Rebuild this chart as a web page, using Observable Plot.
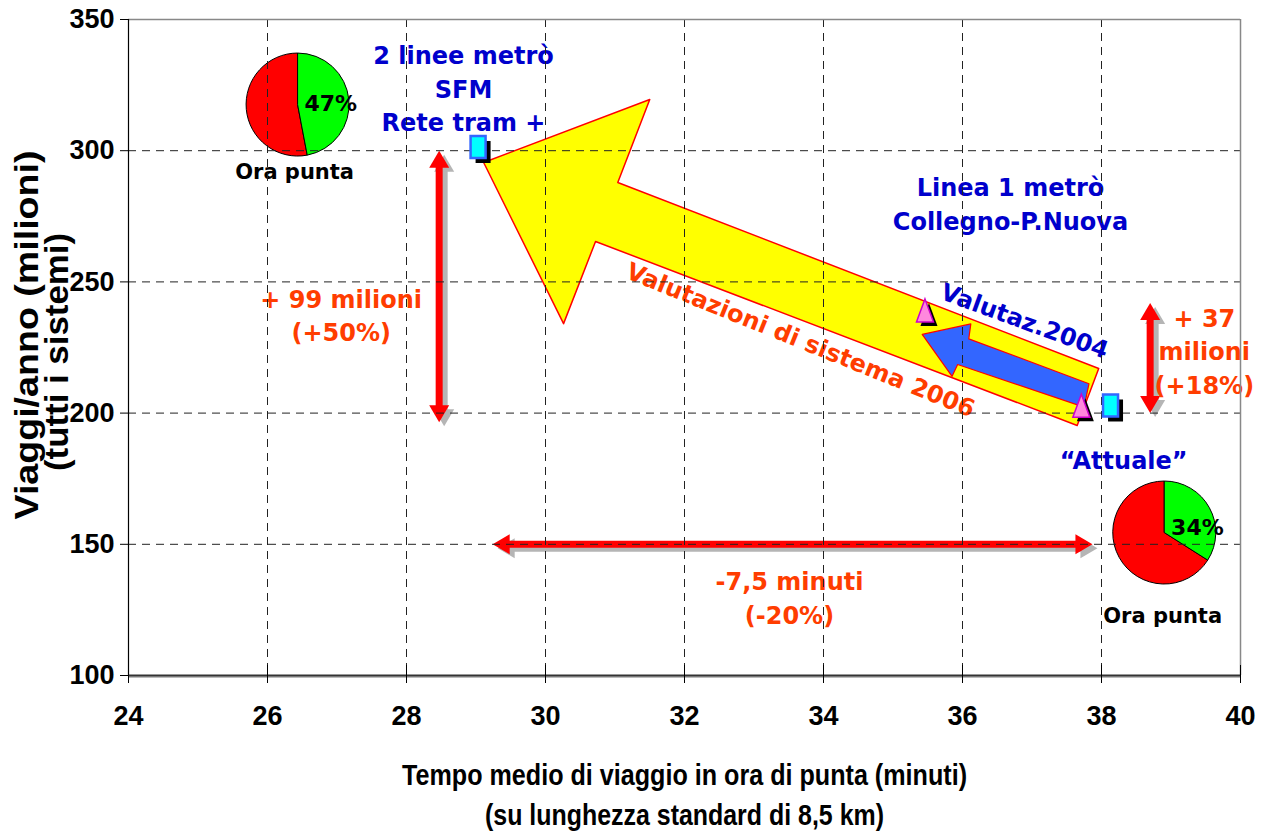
<!DOCTYPE html>
<html><head><meta charset="utf-8">
<script src="https://cdn.jsdelivr.net/npm/d3@7"></script>
<script src="https://cdn.jsdelivr.net/npm/@observablehq/plot@0.6"></script>
<style>
body{margin:0;background:#fff;}
</style></head><body><div id="chart"></div>
<script>
// ---- axes ----
const xTicks = [24, 26, 28, 30, 32, 34, 36, 38, 40];
const yTicks = [100, 150, 200, 250, 300, 350];
const xGrid = [26, 28, 30, 32, 34, 36, 38];
const yGrid = [150, 200, 250, 300];
const xLabel1 = "Tempo medio di viaggio in ora di punta (minuti)";
const xLabel2 = "(su lunghezza standard di 8,5 km)";
const yLabel1 = "Viaggi/anno (milioni)";
const yLabel2 = "(tutti i sistemi)";

// ---- scenario markers (minutes, million trips/year) ----
const metroSquares = [{x: 29.03, y: 301.4}, {x: 38.13, y: 202.9}];
const evalTriangles = [{x: 35.46, y: 239.1}, {x: 37.71, y: 202.8}];

// ---- peak-hour pies (share of public transport) ----
const pies = [
  {x: 26.44, y: 317.4, share: 0.47, label: "47%", lx: 26.91, ly: 318.0, cx: 26.39, cy: 291.7},
  {x: 38.91, y: 154.3, share: 0.34, label: "34%", lx: 39.38, ly: 156.4, cx: 38.88, cy: 122.5}
];

// ---- big arrows (polygons in data units) ----
const bigArrowX = [29.11, 31.50, 31.04, 37.96, 37.65, 30.72, 30.26];
const bigArrowY = [295.5, 319.5, 287.9, 217.0, 195.3, 265.4, 234.1];
const blueArrowX = [35.42, 36.12, 36.09, 37.82, 37.75, 35.93, 35.85];
const blueArrowY = [230.0, 234.0, 228.3, 211.2, 202.3, 218.5, 214.0];

// ---- double-headed difference arrows ----
const vArrows = [{x: 28.47, top: 300, bottom: 196.5}, {x: 38.70, top: 242, bottom: 200}];
const hArrows = [{y: 150, left: 29.24, right: 37.87}];

// ---- annotations ----
const blueNotes = [
  {x: 28.82, y: 324.3, text: "2 linee metrò\nSFM\nRete tram +"},
  {x: 36.69, y: 280.3, text: "Linea 1 metrò\nCollegno-P.Nuova"},
  {x: 38.32, y: 182.7, text: "“Attuale”"}
];
const orangeNotes = [
  {x: 27.06, y: 237.8, text: "+ 99 milioni\n(+50%)"},
  {x: 39.48, y: 224.2, text: "+ 37\nmilioni\n(+18%)"},
  {x: 33.51, y: 130.1, text: "-7,5 minuti\n(-20%)"}
];
const rotatedNotes = [
  {x: 36.89, y: 234.9, text: "Valutaz.2004", angle: 20, color: "#0000cc"},
  {x: 33.67, y: 227.7, text: "Valutazioni di sistema 2006", angle: 22, color: "#ff3d00"}
];

// ---- styling ----
const comic = "'Comic Sans MS', 'DejaVu Sans', sans-serif";
const narrow = "'Liberation Sans Narrow', 'Arial Narrow', 'Liberation Sans', Arial, sans-serif";
const blue = "#0000cc", orange = "#ff3d00";
const pieR = 51.5;

const rectSym = {draw(ctx) { ctx.rect(-7.5, -11, 15, 22); }};
const triSym = {draw(ctx) { ctx.moveTo(0, -11.5); ctx.lineTo(8.5, 11.5); ctx.lineTo(-8.5, 11.5); ctx.closePath(); }};
const headSym = {draw(ctx) { ctx.moveTo(0, 0); ctx.lineTo(10, 17); ctx.lineTo(-10, 17); ctx.closePath(); }};

const bigArrow = bigArrowX.map((x, i) => ({x, y: bigArrowY[i]}));
const blueArrow = blueArrowX.map((x, i) => ({x, y: blueArrowY[i]}));
const heads = [
  ...vArrows.flatMap(a => [{x: a.x, y: a.top, r: 0}, {x: a.x, y: a.bottom, r: 180}]),
  ...hArrows.flatMap(a => [{x: a.left, y: a.y, r: -90}, {x: a.right, y: a.y, r: 90}])
];

const pieMark = (index, scales) => {
  const g = d3.create("svg:g");
  const arc = d3.arc().innerRadius(0).outerRadius(pieR);
  for (const p of pies) {
    const cx = scales.x(p.x), cy = scales.y(p.y);
    const a = p.share * 2 * Math.PI;
    g.append("path").attr("transform", `translate(${cx},${cy})`)
      .attr("d", arc({startAngle: a, endAngle: 2 * Math.PI}))
      .attr("fill", "#ff0000").attr("stroke", "#000").attr("stroke-width", 1);
    g.append("path").attr("transform", `translate(${cx},${cy})`)
      .attr("d", arc({startAngle: 0, endAngle: a}))
      .attr("fill", "#00ff00").attr("stroke", "#000").attr("stroke-width", 1);
  }
  return g.node();
};

function diffArrows(color, dx, dy) {
  return [
    Plot.ruleX(vArrows, {x: "x", y1: "top", y2: "bottom", stroke: color, strokeWidth: 7, insetTop: 14, insetBottom: 14, dx, dy}),
    Plot.ruleY(hArrows, {y: "y", x1: "left", x2: "right", stroke: color, strokeWidth: 7, insetLeft: 14, insetRight: 14, dx, dy}),
    Plot.dot(heads, {x: "x", y: "y", rotate: "r", symbol: headSym, fill: color, stroke: "none", dx, dy})
  ];
}

const noteStyle = {fontFamily: comic, fontSize: 24, fontWeight: "bold", lineHeight: 1.4};

const plot = Plot.plot({
  width: 1269,
  height: 836,
  marginLeft: 128,
  marginRight: 29,
  marginTop: 19,
  marginBottom: 161,
  style: {fontFamily: narrow, fontWeight: "bold", fontSize: "27px", color: "#000", background: "#fff"},
  x: {domain: [24, 40]},
  y: {domain: [100, 350]},
  marks: [
    // big arrows
    Plot.line(bigArrow, {x: "x", y: "y", curve: "linear-closed", fill: "#ffff00", stroke: "#ff0000", strokeWidth: 1.5}),
    Plot.line(blueArrow, {x: "x", y: "y", curve: "linear-closed", fill: "#3366ff", stroke: "#ff0000", strokeWidth: 1.2}),
    // difference arrows with shadow
    ...diffArrows("#b5b5b5", 5, 4),
    ...diffArrows("#ff0000", 0, 0),
    // pies
    pieMark,
    Plot.text(pies, {x: "lx", y: "ly", text: "label", fontFamily: comic, fontSize: 22, fontWeight: "bold", fill: "#000"}),
    Plot.text(pies, {x: "cx", y: "cy", text: () => "Ora punta", fontFamily: comic, fontSize: 21, fontWeight: "bold", fill: "#000"}),
    // annotations
    Plot.text(blueNotes, {x: "x", y: "y", text: "text", ...noteStyle, fill: blue}),
    Plot.text(orangeNotes, {x: "x", y: "y", text: "text", ...noteStyle, fill: orange}),
    Plot.text(rotatedNotes, {x: "x", y: "y", text: "text", rotate: "angle", fill: "color", fontFamily: comic, fontSize: 24, fontWeight: "bold"}),
    // grid
    Plot.ruleX(xGrid, {stroke: "#222", strokeDasharray: "8,6", strokeWidth: 1}),
    Plot.ruleY(yGrid, {stroke: "#222", strokeDasharray: "8,6", strokeWidth: 1}),
    // frame
    Plot.ruleY([yTicks[yTicks.length - 1]], {stroke: "#888", strokeWidth: 1.5}),
    Plot.ruleX([xTicks[xTicks.length - 1]], {stroke: "#888", strokeWidth: 1.5}),
    Plot.ruleX([xTicks[0]], {stroke: "#000", strokeWidth: 1.2}),
    Plot.ruleY([yTicks[0]], {stroke: "#bbb", strokeWidth: 3, dy: 1}),
    Plot.ruleY([yTicks[0]], {stroke: "#333", strokeWidth: 1.8}),
    // axes
    Plot.axisY({ticks: yTicks, tickSize: 8, tickPadding: 6, label: null, fill: "#000"}),
    Plot.axisX({ticks: xTicks, tickSize: 8, tickPadding: 22, label: null, fill: "#000"}),
    Plot.ruleX(xTicks, {x: d => d, y1: () => yTicks[0], y2: () => yTicks[0], insetTop: -10, insetBottom: 0, stroke: "#000", strokeWidth: 1}),
    // markers with shadows
    Plot.dot(metroSquares, {x: "x", y: "y", symbol: rectSym, fill: "#000", stroke: "none", dx: 5, dy: 5}),
    Plot.dot(metroSquares, {x: "x", y: "y", symbol: rectSym, fill: "#00ffff", stroke: "#3366ff", strokeWidth: 2.5}),
    Plot.dot(evalTriangles, {x: "x", y: "y", symbol: triSym, fill: "#000", stroke: "none", dx: 4, dy: 4}),
    Plot.dot(evalTriangles, {x: "x", y: "y", symbol: triSym, fill: "#ff88dd", stroke: "#cc00cc", strokeWidth: 1.5}),
    // axis titles
    Plot.text([xLabel1], {frameAnchor: "bottom", lineAnchor: "middle", textAnchor: "middle", dy: 100, text: d => d, fill: "#000", fontSize: 29}),
    Plot.text([xLabel2], {frameAnchor: "bottom", lineAnchor: "middle", textAnchor: "middle", dy: 140, text: d => d, fill: "#000", fontSize: 29}),
    Plot.text([yLabel1], {frameAnchor: "left", lineAnchor: "middle", textAnchor: "middle", dx: -101, dy: -12.5, rotate: -90, text: d => d, fill: "#000", fontSize: 34}),
    Plot.text([yLabel2], {frameAnchor: "left", lineAnchor: "middle", textAnchor: "middle", dx: -71, dy: 4.5, rotate: -90, text: d => d, fill: "#000", fontSize: 34})
  ]
});

document.getElementById("chart").appendChild(plot);
// stretched (condensed) Excel-style axis titles
const titleLengths = new Map([[yLabel1, 369], [yLabel2, 238], [xLabel1, 565], [xLabel2, 399]]);
plot.querySelectorAll("text").forEach(t => {
  const L = titleLengths.get(t.textContent);
  if (L) { t.setAttribute("textLength", L); t.setAttribute("lengthAdjust", "spacingAndGlyphs"); }
});
</script>
</body></html>
